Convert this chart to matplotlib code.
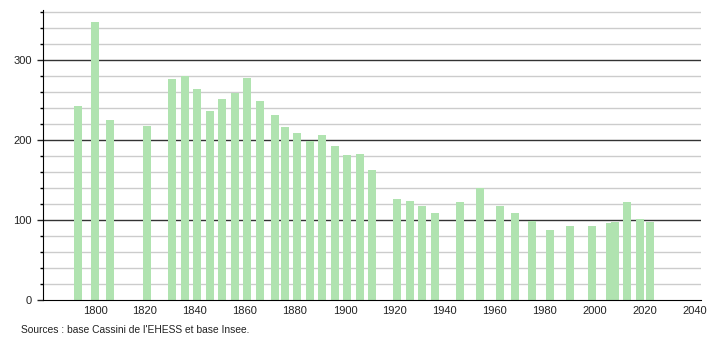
import matplotlib
matplotlib.use('Agg')
import matplotlib.pyplot as plt
from matplotlib.ticker import MultipleLocator

plt.rcParams['font.family'] = ['Liberation Sans', 'DejaVu Sans']

# census years and population
years = [1793, 1800, 1806, 1821, 1831, 1836, 1841, 1846, 1851, 1856,
         1861, 1866, 1872, 1876, 1881, 1886, 1891, 1896, 1901, 1906,
         1911, 1921, 1926, 1931, 1936, 1946, 1954, 1962, 1968, 1975,
         1982, 1990, 1999, 2006, 2008, 2013, 2018, 2022]
pop = [242, 347, 225, 217, 276, 280, 264, 236, 251, 259,
       277, 249, 231, 216, 209, 199, 206, 192, 181, 182,
       162, 126, 124, 117, 109, 122, 140, 117, 108, 99,
       87, 92, 92, 96, 97, 122, 101, 97]
xticks = list(range(1800, 2041, 20))
source = "Sources : base Cassini de l'EHESS et base Insee."

fig = plt.figure(figsize=(7.1, 3.4), dpi=100)
ax = fig.add_axes([0.0606, 0.1176, 0.9264, 0.853])

# grid: light every 20, dark every 100
for v in range(20, 361, 20):
    if v % 100 == 0:
        ax.axhline(v, color='#333333', lw=1.0, zorder=1)
    else:
        ax.axhline(v, color='#cccccc', lw=1.0, zorder=1)

ax.bar(years, pop, width=3.2, color='#b0e3b0', zorder=2)

ax.set_xlim(1779.2, 2042.4)
ax.set_ylim(0, 362)
ax.set_xticks(xticks)
ax.yaxis.set_major_locator(MultipleLocator(100))
ax.yaxis.set_minor_locator(MultipleLocator(20))
ax.tick_params(axis='x', length=0, pad=4, labelsize=8, colors='#222222')
ax.tick_params(axis='y', which='major', length=4, width=1, pad=4,
               labelsize=8, colors='#222222')
ax.tick_params(axis='y', which='minor', length=2, width=1)
ax.spines['top'].set_visible(False)
ax.spines['right'].set_visible(False)
ax.spines['left'].set_color('black')
ax.spines['bottom'].set_color('black')

fig.text(0.029, 0.03, source, fontsize=7.4, color='#222222', va='center')

fig.savefig('out.png', dpi=100)
